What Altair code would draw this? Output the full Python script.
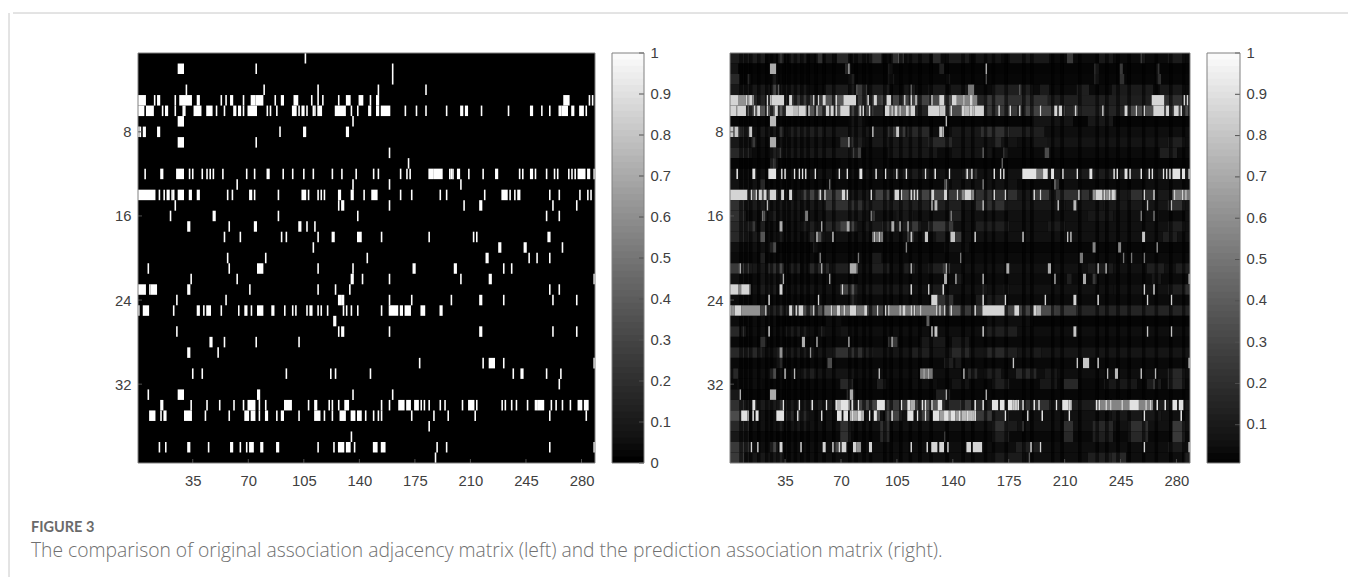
import altair as alt
import pandas as pd

N_COLS = 288
N_ROWS = 39
X_TICKS = [35, 70, 105, 140, 175, 210, 245, 280]
Y_TICKS = [8, 16, 24, 32]
CB_TICKS = [0, .1, .2, .3, .4, .5, .6, .7, .8, .9, 1]
CB2_TICKS = [.1, .2, .3, .4, .5, .6, .7, .8, .9, 1]
CAPTION_HEAD = "FIGURE 3"
CAPTION_BODY = "The comparison of original association adjacency matrix (left) and the prediction association matrix (right)."

# white cells of the adjacency matrix, row by row: a column or [first, last]
LEFT = [
 [106],
 [[26,29],75,161],
 [161],
 [31,80,114,152,182],
 [[1,5],11,[13,14],24,[27,29],[30,34],[38,39],53,56,[59,60],67,[72,74],[75,79],87,[91,92],[99,101],110,114,117,127,[132,134],[140,142],147,[151,152],[269,272],285,287],
 [[1,4],[6,10],16,[18,19],24,29,30,[36,40],[44,47],50,55,[61,62],[64,65],67,[70,75],82,84,88,[98,100],102,[104,105],107,111,112,[114,116],[125,131],135,139,[146,147],[151,152],[154,159],169,176,182,195,[204,205],[207,208],217,234,[248,249],255,260,[266,267],[268,271],[274,275],[279,281],283],
 [[26,29],136],
 [1,2,[4,5],[13,14],90,[105,106],[132,133]],
 [[26,29],75],
 [159],
 [171],
 [5,[15,16],[25,29],33,35,41,44,46,48,54,69,74,[82,83],92,98,105,111,123,129,138,149,152,166,170,172,[184,186],[187,192],197,198,199,[202,203],209,218,[226,227],241,243,[248,249],251,258,263,265,272,274,276,[278,282],[284,285],288],
 [63,136,159,204],
 [[1,11],14,17,[19,20],22,23,[26,29],[33,34],[38,39],57,60,[71,72],74,89,[104,106],108,114,116,118,[127,128],[135,136],143,[148,151],166,173,191,195,219,[230,233],235,238,[240,241],260,266,279,284,286],
 [24,127,[129,130],159,206,[216,217],262,277],
 [21,[48,49],89,139,258,266],
 [[32,33],58,[74,75],[102,103],107,112],
 [55,65,91,94,114,[123,124],[139,141],154,184,212,214,[259,260]],
 [111,[228,229],[244,245],268],
 [57,81,145,[220,221],247,252,260],
 [7,58,[76,79],114,136,[174,175],[200,201],231,236],
 [34,63,[135,136],142,159,204,[222,223],288],
 [[1,5],8,[9,12],[32,33],71,114,125,134,260,266],
 [25,56,[127,128],[129,130],159,173,198,[216,217],231,262,277],
 [1,[4,7],23,[38,39],42,[44,46],53,64,[68,69],72,[76,79],[85,86],93,98,100,107,[109,110],114,116,120,130,132,135,139,154,[159,164],[166,167],[169,172],[179,181],[191,192]],
 [[124,125]],
 [25,127,[129,130],159,[216,217],262,277],
 [[46,47],55,75,102],
 [[32,33],51],
 [178,218,[222,225],231,288],
 [35,41,94,122,125,147,237,[242,243],258,267],
 [266],
 [7,[26,29],[76,77],136,161],
 [[15,16],34,44,52,61,67,[70,74],77,81,[93,97],108,[112,113],121,123,127,[131,133],154,159,[165,168],[170,172],[175,177],179,181,184,191,194,205,[209,212],214,230,232,236,239,246,[251,252],[253,256],261,264,268,273,[278,280],[282,284]],
 [[8,11],15,[17,18],[30,34],43,58,[68,70],[72,74],77,[81,82],88,[91,92],102,[112,115],118,123,[128,131],[135,137],[139,141],144,149,152,154,173,187,196,213,260,283],
 [184],
 [135],
 [14,18,[32,33],45,[59,60],65,69,[71,73],[78,79],[88,89],114,124,[127,130],[132,134],137,[149,151],[154,156],189,195,260,288],
 [188],
]

# prediction matrix: background level, brightness of the known cells, then patches (first, last, level)
R_BG = [.03,.015,.02,.03,.14,.14,.015,.04,.04,.03,.015,.05,.025,.08,.07,.05,.05,.05,.02,.03,.05,.03,.05,.03,.14,.015,.04,.025,.07,.025,.04,.025,.02,.1,.05,.05,.025,.04,.04]
R_HIT = [.35,.7,.3,.4,.85,.85,.75,.8,.7,.4,.4,.9,.5,.85,.75,.5,.7,.8,.55,.5,.7,.7,.85,.85,.85,.4,.8,.7,.6,.8,.75,.3,.7,.9,.9,.25,.25,.85,.4]
R_SEGS = [
 [(1,22,.13),(31,34,.25),(38,48,.12),(55,58,.25),(60,66,.1),(68,75,.2),(78,86,.1),(88,95,.25),(102,109,.25),(112,125,.1),(128,132,.2),(136,150,.12),(155,170,.08),(176,200,.1),(212,215,.3),(232,240,.1),(258,260,.3),(275,285,.12)],
 [(1,5,.08),(73,76,.2),(100,102,.15),(132,134,.15),(229,231,.25),(245,246,.3),(268,269,.3)],
 [(1,6,.2),(12,13,.2),(27,30,.1),(75,78,.15),(100,103,.1),(136,138,.1),(229,231,.2),(245,247,.25),(268,270,.25)],
 [(1,25,.1),(27,30,.35),(33,50,.1),(60,80,.12),(80,86,.3),(88,100,.12),(110,116,.1),(125,135,.1),(139,150,.1),(150,153,.5),(165,190,.15),(195,200,.12),(218,225,.15),(240,265,.12),(270,285,.1)],
 [(1,15,.6),(26,34,.75),(40,60,.3),(60,80,.45),(76,80,.85),(80,95,.3),(95,125,.35),(125,142,.4),(142,155,.55),(160,175,.3),(175,200,.25),(200,230,.15),(230,270,.15),(265,273,.85),(273,287,.25)],
 [(1,10,.75),(10,35,.45),(36,48,.75),(50,72,.45),(70,76,.8),(76,90,.35),(98,116,.5),(125,135,.8),(135,146,.4),(146,160,.75),(160,180,.3),(185,210,.35),(216,220,.35),(250,287,.4),(268,272,.85)],
 [(26,29,.7),(75,85,.08),(190,215,.08),(225,240,.1)],
 [(1,3,.5),(4,8,.45),(9,12,.2),(20,35,.1),(32,34,.25),(37,60,.15),(60,100,.1),(100,110,.3),(112,125,.2),(132,134,.7),(140,158,.1),(158,175,.25),(176,197,.15)],
 [(1,14,.1),(14,16,.3),(30,60,.07),(70,78,.25),(78,85,.15),(90,135,.1),(125,140,.2),(140,180,.08),(165,170,.2),(190,200,.1),(200,275,.08),(275,285,.15)],
 [(1,14,.2),(26,29,.15),(30,33,.3),(33,75,.1),(75,80,.15),(78,82,.35),(100,130,.1),(140,165,.08),(172,174,.3),(198,200,.4),(270,280,.15)],
 [(26,29,.35),(29,30,.2),(70,100,.03)],
 [(26,29,.9),(100,128,.12),(146,155,.25),(184,200,.5),(186,192,.9),(200,288,.12)],
 [(1,20,.07),(20,22,.2),(135,137,.4),(140,180,.07),(204,206,.25),(210,220,.05),(260,285,.05)],
 [(1,11,.85),(13,30,.45),(33,34,.5),(38,39,.45),(45,75,.35),(92,100,.35),(104,118,.4),(118,135,.35),(135,146,.3),(146,153,.55),(155,180,.25),(190,200,.3),(205,225,.25),(228,242,.6),(250,265,.25),(278,288,.5)],
 [(1,10,.25),(10,25,.12),(30,55,.1),(60,85,.25),(85,130,.15),(131,145,.15),(155,175,.25),(175,210,.1),(235,260,.1),(275,285,.25)],
 [(1,10,.25),(21,23,.45),(26,29,.15),(30,48,.08),(60,85,.1),(89,91,.25),(105,115,.1),(138,145,.15),(225,240,.1),(270,285,.04)],
 [(1,12,.2),(13,16,.3),(20,22,.15),(45,55,.15),(60,70,.2),(70,80,.35),(85,95,.12),(96,103,.2),(105,112,.15),(112,120,.3),(125,140,.3),(155,175,.15),(200,210,.12),(275,285,.15)],
 [(1,12,.2),(12,22,.12),(20,22,.45),(30,34,.12),(50,60,.2),(55,57,.4),(90,96,.5),(112,115,.4),(130,135,.15),(141,145,.3),(272,280,.15)],
 [(1,30,.06),(26,29,.4),(53,55,.15),(135,150,.06)],
 [(20,22,.15),(90,95,.12)],
 [(1,14,.3),(6,8,.35),(15,30,.1),(25,33,.25),(32,34,.4),(38,44,.15),(50,62,.2),(65,75,.15),(76,80,.55),(90,100,.15),(110,116,.15),(125,135,.15),(134,138,.3),(225,240,.12),(262,272,.15),(280,288,.15)],
 [(1,10,.06),(20,33,.08),(142,146,.1),(175,190,.05),(212,214,.15),(228,230,.3),(265,270,.1)],
 [(1,13,.55),(20,30,.12),(40,55,.08),(70,80,.35),(76,80,.45),(85,115,.1),(125,135,.12),(159,161,.25),(172,175,.1),(230,240,.06),(275,285,.15),(285,288,.25)],
 [(76,80,.2),(131,140,.25),(155,172,.12)],
 [(1,20,.6),(20,24,.35),(30,34,.25),(37,60,.4),(60,85,.5),(85,100,.35),(100,130,.5),(130,145,.45),(145,158,.3),(160,172,.85),(172,200,.35),(179,181,.75),(191,196,.7),(196,205,.4),(205,218,.3),(218,288,.18)],
 [(1,30,.04),(60,70,.04),(160,190,.05)],
 [(1,6,.2),(8,10,.25),(35,50,.12),(58,60,.2),(70,76,.08),(160,180,.15)],
 [(20,23,.25),(100,105,.3),(120,135,.1),(140,150,.1)],
 [(1,20,.2),(30,34,.4),(34,50,.12),(65,85,.25),(85,90,.15),(115,125,.15),(140,150,.2),(160,175,.2),(175,180,.15),(190,195,.12)],
 [(30,33,.2),(62,64,.4),(135,140,.15),(142,145,.1)],
 [(3,5,.2),(26,29,.4),(45,55,.15),(55,80,.08),(120,127,.5),(150,155,.2),(160,170,.15),(180,192,.2),(198,205,.1),(275,285,.2)],
 [(5,20,.05),(70,77,.2),(93,98,.15),(115,130,.05),(140,150,.08),(165,175,.15),(195,205,.1),(210,218,.2),(235,255,.1),(262,270,.12),(275,285,.2)],
 [(1,6,.1),(74,78,.2),(130,138,.15)],
 [(1,10,.25),(30,34,.25),(68,76,.75),(76,95,.35),(93,97,.65),(98,120,.3),(112,116,.7),(120,134,.45),(134,160,.2),(145,152,.3),(175,182,.8),(182,200,.25),(209,213,.85),(230,265,.55)],
 [(1,12,.4),(8,12,.65),(36,40,.2),(42,50,.2),(76,84,.7),(91,94,.4),(98,108,.35),(118,125,.35),(132,146,.65),(146,155,.75),(155,165,.3),(165,175,.15),(240,270,.1)],
 [(1,12,.2),(30,34,.12),(40,50,.1),(70,76,.25),(95,100,.25),(165,175,.25),(175,180,.12),(210,215,.25),(228,240,.2),(250,262,.25),(278,285,.3)],
 [(1,12,.1),(70,76,.25),(95,100,.2),(165,175,.15),(210,215,.2),(228,240,.15),(250,262,.2),(278,285,.3)],
 [(1,12,.3),(12,14,.25),(26,30,.35),(65,70,.4),(78,82,.6),(153,158,.85),(180,195,.15),(275,285,.12)],
 [(1,10,.3),(10,30,.1),(30,34,.15),(165,185,.12),(225,240,.15),(240,248,.2),(285,288,.15)],
]
# columns that stay dark through the dim patches of the prediction matrix
DARK_COLS = [7,10,13,18,23,26,30,34,37,41,45,49,54,59,65,75,79,84,88,97,101,107,113,119,126,136,
             146,152,160,165,173,184,189,202,208,219,230,236,243,250,259,267,276,284]
DIM_PATCH = .8
DARK_GAIN = .35
CB_LEVELS = [i / 64 for i in range(65)]


def stripes(row):
    return [(c, c) if isinstance(c, int) else tuple(c) for c in row]


def left_records():
    out = []
    for r, row in enumerate(LEFT, 1):
        for a, b in stripes(row):
            out.append(dict(x=a - .5, x2=b + .5, y=r - .5, y2=r + .5, v=1))
    return out


def right_records():
    out = []
    for r in range(N_ROWS):
        cells = [R_BG[r]] * N_COLS
        for a, b, v in R_SEGS[r]:
            for c in range(a, min(b, N_COLS) + 1):
                cells[c - 1] = v * DIM_PATCH if v < .5 else v
        for c in DARK_COLS:
            for k in (c, c + 1):
                if cells[k - 1] < .5:
                    cells[k - 1] *= DARK_GAIN
        for a, b in stripes(LEFT[r]):
            for c in range(a, b + 1):
                cells[c - 1] = max(cells[c - 1], R_HIT[r])
        start = 0
        for c in range(1, N_COLS + 1):
            if c == N_COLS or cells[c] != cells[start]:
                out.append(dict(x=start + .5, x2=c + .5, y=r + .5, y2=r + 1.5, v=cells[start]))
                start = c
    return out


FRAME = "#808080"
TXT = "#404040"
FONT = "Liberation Sans"
LABEL_SIZE = 14.8
GRAY = alt.Scale(domain=[0, 1], range=["#000000", "#ffffff"])
HEIGHT = 410


def frame(w):
    return alt.Chart(pd.DataFrame({"a": [0]})).mark_rect(fillOpacity=0, stroke=FRAME, strokeWidth=1).encode(
        x=alt.value(0), x2=alt.value(w), y=alt.value(0), y2=alt.value(HEIGHT))


def matrix(records, w, y_extent):
    xs = alt.Scale(domain=[.5, N_COLS + .5], nice=False, zero=False)
    ys = alt.Scale(domain=[.5, N_ROWS + .5], nice=False, zero=False, reverse=True)
    base = alt.Chart(pd.DataFrame(records)).mark_rect(strokeWidth=0).encode(
        x=alt.X("x:Q", scale=xs, axis=alt.Axis(values=X_TICKS, title=None, ticks=False, domain=False, grid=False,
                                               labelFont=FONT, labelFontSize=LABEL_SIZE, labelColor=TXT, labelPadding=10,
                                               labelFlush=False, minExtent=20, maxExtent=20)),
        x2="x2:Q",
        y=alt.Y("y:Q", scale=ys, axis=alt.Axis(values=Y_TICKS, title=None, ticks=False, domain=False, grid=False,
                                               labelFont=FONT, labelFontSize=LABEL_SIZE, labelColor=TXT, labelPadding=7,
                                               labelOffset=1, minExtent=y_extent, maxExtent=y_extent)),
        y2="y2:Q",
        color=alt.Color("v:Q", scale=GRAY, legend=None),
    )
    tx = alt.Chart(pd.DataFrame({"t": X_TICKS})).mark_rule(color="#505050").encode(
        x=alt.X("t:Q", scale=xs), y=alt.value(HEIGHT - 4), y2=alt.value(HEIGHT))
    ty = alt.Chart(pd.DataFrame({"t": Y_TICKS})).mark_rule(color="#505050").encode(
        y=alt.Y("t:Q", scale=ys), x=alt.value(0), x2=alt.value(4))
    return alt.layer(base, tx, ty, frame(w)).properties(
        width=w, height=HEIGHT, view=alt.ViewConfig(fill="#000000", stroke=None))


def colorbar(ticks, low, extent, w):
    ys = alt.Scale(domain=[low, 1], nice=False, zero=False)
    lv = [low] + [c for c in CB_LEVELS if c > low]
    df = pd.DataFrame({"a": lv[:-1], "b": [1] * (len(lv) - 1), "v": lv[:-1]})
    rects = alt.Chart(df).mark_rect(strokeWidth=0).encode(
        y=alt.Y("a:Q", scale=ys, axis=alt.Axis(values=ticks, orient="right", title=None, ticks=False, domain=False,
                                               grid=False, format="~g", labelFont=FONT, labelFontSize=LABEL_SIZE,
                                               labelColor=TXT, labelPadding=6, labelFlush=False,
                                               minExtent=extent, maxExtent=extent)),
        y2="b:Q",
        color=alt.Color("v:Q", scale=GRAY, legend=None),
    )
    tk = alt.Chart(pd.DataFrame({"t": ticks})).mark_rule(color="#505050").encode(
        y=alt.Y("t:Q", scale=ys), x=alt.value(w - 5), x2=alt.value(w))
    return alt.layer(rects, tk, frame(w)).properties(width=w, height=HEIGHT)


def blank(w, h):
    return alt.Chart(pd.DataFrame({"a": [0]})).mark_point(opacity=0).encode(
        x=alt.value(0), y=alt.value(0)).properties(width=w, height=h)


panels = alt.hconcat(
    blank(80, HEIGHT),
    matrix(left_records(), 457, 30),
    colorbar(CB_TICKS, 0, 41, 32),
    matrix(right_records(), 460, 30),
    colorbar(CB2_TICKS, .0073, 39, 33),
    spacing=15,
)

LINE_W = 1335
top_line = alt.Chart(pd.DataFrame({"a": [0]})).mark_rule(color="#c8c8c8").encode(
    x=alt.value(0), x2=alt.value(LINE_W), y=alt.value(0)).properties(width=LINE_W, height=1)

CAP_X = 18
caption = alt.layer(
    alt.Chart(pd.DataFrame({"t": [CAPTION_HEAD]})).mark_text(
        align="left", baseline="alphabetic", font="Lato", fontSize=14.5, fontWeight="bold", color="#6a6a6a"
    ).encode(x=alt.value(CAP_X), y=alt.value(13), text="t:N"),
    alt.Chart(pd.DataFrame({"t": [CAPTION_BODY]})).mark_text(
        align="left", baseline="alphabetic", font="Open Sans", fontSize=19.3, fontWeight=300, color="#707070"
    ).encode(x=alt.value(CAP_X), y=alt.value(38), text="t:N"),
).properties(width=LINE_W, height=60)

left_line = alt.Chart(pd.DataFrame({"a": [0]})).mark_rule(color="#c8c8c8").encode(
    x=alt.value(0), y=alt.value(0), y2=alt.value(564)).properties(width=1, height=564)

body = alt.vconcat(top_line, panels, caption, spacing=31)
chart = alt.hconcat(left_line, body, spacing=0).properties(
    padding={"left": 0, "top": 4, "right": 0, "bottom": 0}
).configure_view(stroke=None).configure_concat(spacing=0)

chart.save("out.html", embed_options={"renderer": "svg", "actions": False})
